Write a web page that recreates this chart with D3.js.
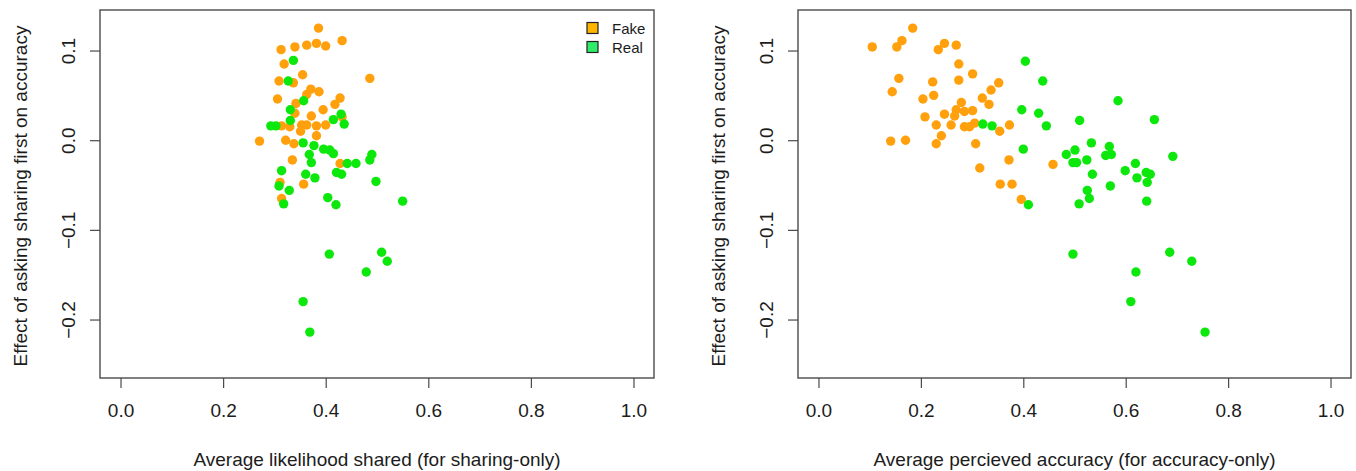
<!DOCTYPE html>
<html>
<head>
<meta charset="utf-8">
<script src="https://cdn.jsdelivr.net/npm/d3@7"></script>
<style>
  html, body { margin: 0; padding: 0; background: #fff; }
  svg { display: block; font-family: "Liberation Sans", Arial, Helvetica, sans-serif; }
</style>
</head>
<body>
<svg id="chart" width="1356" height="471"></svg>
<script>
// ---------------- data ----------------
const seriesNames = ["Fake", "Real"];
const xTicks = [0.0, 0.2, 0.4, 0.6, 0.8, 1.0];
const yTicks = [-0.2, -0.1, 0.0, 0.1];
const xTitleLeft = "Average likelihood shared (for sharing-only)";
const xTitleRight = "Average percieved accuracy (for accuracy-only)";
const yTitle = "Effect of asking sharing first on accuracy";

// Left panel: sharing-only likelihood vs effect
const fakeShareX = [0.386,0.313,0.340,0.363,0.382,0.400,0.432,0.319,0.355,0.309,0.337,0.486,0.371,0.387,0.363,0.306,0.428,0.342,0.418,0.395,0.340,0.372,0.432,0.314,0.330,0.353,0.363,0.382,0.400,0.351,0.382,0.271,0.322,0.338,0.335,0.428,0.311,0.357,0.314];
const fakeShareY = [0.125,0.101,0.104,0.106,0.108,0.105,0.111,0.085,0.073,0.066,0.064,0.069,0.057,0.054,0.051,0.046,0.047,0.041,0.040,0.034,0.030,0.027,0.026,0.016,0.015,0.017,0.017,0.016,0.017,0.010,0.005,-0.001,0.000,-0.004,-0.022,-0.026,-0.047,-0.049,-0.065];
const realShareX = [0.337,0.327,0.357,0.331,0.331,0.430,0.415,0.436,0.293,0.303,0.356,0.377,0.368,0.396,0.408,0.415,0.490,0.486,0.372,0.442,0.459,0.314,0.361,0.379,0.421,0.431,0.498,0.309,0.329,0.318,0.404,0.420,0.550,0.407,0.509,0.520,0.479,0.356,0.369];
const realShareY = [0.089,0.066,0.044,0.034,0.022,0.029,0.023,0.018,0.016,0.016,-0.003,-0.006,-0.016,-0.010,-0.011,-0.015,-0.016,-0.022,-0.025,-0.026,-0.026,-0.034,-0.038,-0.042,-0.036,-0.038,-0.046,-0.051,-0.056,-0.071,-0.064,-0.072,-0.068,-0.127,-0.125,-0.135,-0.147,-0.180,-0.214];

// Right panel: accuracy-only perceived accuracy vs effect
const fakeAccX = [0.184,0.105,0.153,0.163,0.246,0.234,0.269,0.274,0.157,0.223,0.274,0.301,0.144,0.225,0.204,0.352,0.337,0.320,0.279,0.333,0.269,0.285,0.301,0.266,0.208,0.246,0.230,0.259,0.285,0.295,0.305,0.373,0.354,0.240,0.141,0.170,0.230,0.307,0.372,0.315,0.355,0.378,0.396,0.458];
const fakeAccY = [0.125,0.104,0.104,0.111,0.108,0.101,0.106,0.085,0.069,0.065,0.067,0.074,0.054,0.050,0.046,0.064,0.056,0.047,0.042,0.040,0.034,0.032,0.033,0.027,0.026,0.029,0.017,0.017,0.015,0.015,0.019,0.017,0.010,0.005,-0.001,0.000,-0.004,-0.004,-0.022,-0.031,-0.049,-0.049,-0.066,-0.027];
const realAccX = [0.404,0.438,0.397,0.430,0.445,0.321,0.339,0.400,0.410,0.585,0.510,0.656,0.533,0.568,0.484,0.501,0.497,0.504,0.524,0.561,0.572,0.692,0.619,0.599,0.640,0.648,0.535,0.622,0.642,0.570,0.525,0.529,0.509,0.641,0.497,0.686,0.729,0.620,0.610,0.755];
const realAccY = [0.088,0.066,0.034,0.030,0.016,0.018,0.016,-0.010,-0.072,0.044,0.022,0.023,-0.003,-0.007,-0.016,-0.011,-0.025,-0.025,-0.022,-0.017,-0.016,-0.018,-0.026,-0.034,-0.036,-0.038,-0.038,-0.042,-0.047,-0.051,-0.056,-0.065,-0.071,-0.068,-0.127,-0.125,-0.135,-0.147,-0.180,-0.214];

// ---------------- style ----------------
const COL_FAKE = "#FFA00C";
const COL_REAL = "#0CE80C";
const LEG_FAKE = "#FFB400";
const LEG_REAL = "#30EC68";
const TEXT_COL = "#1c1c1c";
const BOX_COL = "#4a4a4a";
const R = 4.7;
const FS = "19px";

const svg = d3.select("#chart");

// R-style limits: data range extended by 4%
const xDomain = [-0.04, 1.04];
const yDomain = [-0.2652, 0.1452];

function panel(left, right, fx, fy, rx, ry, xTitle, withLegend) {
  const top = 10, bottom = 378;
  const x = d3.scaleLinear().domain(xDomain).range([left, right]);
  const y = d3.scaleLinear().domain(yDomain).range([bottom, top]);
  const g = svg.append("g");

  // x axis
  const xa = g.append("g").attr("transform", `translate(0,${bottom})`)
    .call(d3.axisBottom(x).tickValues(xTicks).tickSize(10).tickFormat(d3.format(".1f")));
  xa.select(".domain").remove();
  xa.selectAll(".tick line").attr("stroke", BOX_COL).attr("stroke-width", 1.2);
  xa.selectAll(".tick text").attr("y", 39).attr("dy", 0)
    .attr("fill", TEXT_COL).style("font-size", FS)
    .style("font-family", "'Liberation Sans', Arial, sans-serif");

  // y axis with rotated labels (R default las=0)
  const ya = g.append("g").attr("transform", `translate(${left},0)`)
    .call(d3.axisLeft(y).tickValues(yTicks).tickSize(10).tickFormat(d3.format(".1f")));
  ya.select(".domain").remove();
  ya.selectAll(".tick line").attr("stroke", BOX_COL).attr("stroke-width", 1.2);
  ya.selectAll(".tick text")
    .attr("transform", "rotate(-90)")
    .attr("x", 0).attr("y", -25).attr("dy", 0)
    .attr("text-anchor", "middle")
    .attr("fill", TEXT_COL).style("font-size", FS)
    .style("font-family", "'Liberation Sans', Arial, sans-serif");

  // box
  g.append("rect").attr("x", left).attr("y", top)
    .attr("width", right - left).attr("height", bottom - top)
    .attr("fill", "none").attr("stroke", BOX_COL).attr("stroke-width", 1.4);

  // points
  const fake = fx.map((v, i) => ({x: v, y: fy[i]}));
  const real = rx.map((v, i) => ({x: v, y: ry[i]}));
  g.append("g").selectAll("circle").data(fake).join("circle")
    .attr("cx", d => x(d.x)).attr("cy", d => y(d.y)).attr("r", R).attr("fill", COL_FAKE);
  g.append("g").selectAll("circle").data(real).join("circle")
    .attr("cx", d => x(d.x)).attr("cy", d => y(d.y)).attr("r", R).attr("fill", COL_REAL);

  // titles
  g.append("text").attr("x", (left + right) / 2).attr("y", 466)
    .attr("text-anchor", "middle").attr("fill", TEXT_COL).style("font-size", FS)
    .text(xTitle);
  g.append("text")
    .attr("transform", `translate(${left - 73},${(top + bottom) / 2 + 2}) rotate(-90)`)
    .attr("text-anchor", "middle").attr("fill", TEXT_COL).style("font-size", FS)
    .text(yTitle);

  if (withLegend) {
    const lg = g.append("g");
    const cols = [LEG_FAKE, LEG_REAL];
    seriesNames.forEach((name, i) => {
      const cy = 28 + i * 19;
      lg.append("rect").attr("x", right - 67).attr("y", cy - 5.5)
        .attr("width", 11).attr("height", 11)
        .attr("fill", cols[i]).attr("stroke", "#222").attr("stroke-width", 1.2);
      lg.append("text").attr("x", right - 42).attr("y", cy + 5.5)
        .attr("fill", TEXT_COL).style("font-size", "15px").text(name);
    });
  }
}

panel(100, 654, fakeShareX, fakeShareY, realShareX, realShareY, xTitleLeft, true);
panel(798, 1351, fakeAccX, fakeAccY, realAccX, realAccY, xTitleRight, false);
</script>
</body>
</html>
